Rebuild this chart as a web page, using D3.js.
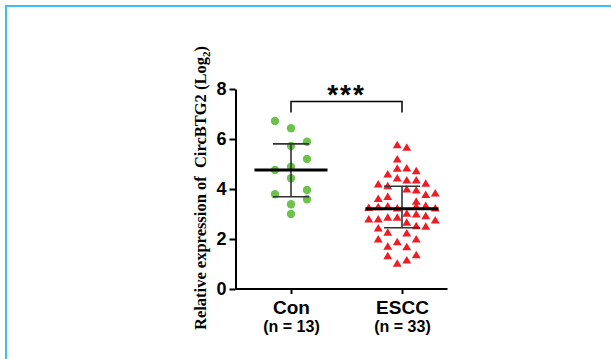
<!DOCTYPE html>
<meta charset="utf-8">
<html lang="en">
<style>
    body {
        margin: 0;
        background: #fff;
        font-family: "Liberation Sans", Arial, sans-serif;
    }
    .axis path,
    .axis line {
        fill: none;
        stroke: #000;
        stroke-width: 2px;
    }
    .axis text {
        font-family: "Liberation Sans", Arial, sans-serif;
        font-weight: bold;
        font-size: 18px;
        fill: #000;
    }
</style>
<head>
    <script src="https://d3js.org/d3.v7.min.js"></script>
</head>
<body>
<svg width="611" height="359"></svg>
<script>

    // groups and labels
    var groups = ["Con", "ESCC"];
    var groupSizes = ["(n = 13)", "(n = 33)"];
    var yTicks = [0, 2, 4, 6, 8];

    // Con values (circles) and their swarm slot
    var conValues = [6.72, 6.43, 5.89, 5.72, 5.2, 4.89, 4.76, 4.43, 3.96, 3.79, 3.59, 3.39, 3.0];
    var conSlots  = [-1,   0,    1,    0,    1,   0,    -1,   0,    1,    -1,   1,    0,    0];

    // ESCC values (triangles) and their swarm slot
    var esccValues = [5.73, 5.63, 5.16, 4.79, 4.8, 4.69, 4.56, 4.4, 4.32, 4.32,
        4.16, 4.09, 4.19, 3.96, 3.92, 3.74, 3.8, 3.58, 3.66, 3.47,
        3.22, 3.25, 3.28, 3.2, 3.27, 3.3, 3.2,
        2.76, 2.76, 2.83, 2.83, 2.99, 2.96, 2.89, 2.72, 2.63, 2.49,
        2.47, 2.4, 2.23, 2.2, 1.96, 1.96, 1.85, 1.67, 1.65, 1.29, 1.33, 1.12, 0.99];
    var esccSlots = [-0.5, 0.5, -0.5, -0.5, 0.5, 1.5, -1.5, -0.5, 0.5, 1.5,
        -2.5, -1.5, 2.5, 0.5, 1.5, 2.5, 3.5, -2.5, -1.5, 1.5,
        -3.5, -2.5, -1.5, -0.5, 1.5, 2.5, 3.5,
        -3.5, -2.5, -1.5, -0.5, 0.5, 1.5, 2.5, 3.5, 0.5, 1.5,
        2.5, -2.5, -1.5, 0.5, -2.5, 1.5, -0.5, -1.5, 0.5, -1.5, 1.5, 0.5, -0.5];

    var margin = {top: 89, left: 235.5},
        width = 222,
        height = 200;

    var svg = d3.select("svg");

    // frame
    svg.append("rect")
        .attr("x", 6).attr("y", 6)
        .attr("width", 800).attr("height", 600)
        .style("fill", "none")
        .style("stroke", "#3cbff0")
        .style("stroke-width", 2);

    var g = svg.append("g")
        .attr("transform", "translate(" + margin.left + "," + margin.top + ")");

    var x = d3.scalePoint().domain(groups).range([0, width]).padding(0.5);
    var y = d3.scaleLinear().domain([0, 8]).range([height, 0]);

    g.append("g")
        .attr("class", "y axis")
        .call(d3.axisLeft(y).tickValues(yTicks).tickSize(6).tickSizeOuter(0).tickPadding(3));

    var xAxis = g.append("g")
        .attr("class", "x axis")
        .attr("transform", "translate(0," + height + ")")
        .call(d3.axisBottom(x).tickSize(5).tickSizeOuter(0));
    xAxis.select(".domain").attr("d", "M0,0H212");
    xAxis.selectAll(".tick text")
        .attr("y", 25).attr("dy", 0)
        .style("font-size", "19px");
    xAxis.selectAll(".tick")
        .append("text")
        .attr("y", 43)
        .style("font-size", "16px")
        .text(function (d, i) { return groupSizes[i]; });

    // y label
    var ylab = svg.append("text")
        .attr("transform", "translate(206,188) rotate(-90)")
        .style("text-anchor", "middle")
        .style("white-space", "pre")
        .style("font-family", "'Liberation Serif', 'Times New Roman', serif")
        .style("font-weight", "bold")
        .style("font-size", "16.5px");
    ylab.append("tspan").text("Relative expression of  CircBTG2 (Log");
    ylab.append("tspan").attr("dy", 4).style("font-size", "11px").text("2");
    ylab.append("tspan").attr("dy", -4).text(")");

    // median with interquartile range (n+1 method)
    function quant(vals, p) {
        var s = vals.slice().sort(d3.ascending);
        var pos = (s.length + 1) * p - 1;
        var lo = Math.floor(pos), hi = Math.ceil(pos);
        return s[lo] + (s[hi] - s[lo]) * (pos - lo);
    }

    var sets = [
        {name: "Con", values: conValues},
        {name: "ESCC", values: esccValues}
    ];

    // points
    g.selectAll(".con")
        .data(conValues)
        .enter().append("circle")
        .attr("class", "con")
        .attr("cx", function (d, i) { return x("Con") + conSlots[i] * 16; })
        .attr("cy", function (d) { return y(d); })
        .attr("r", 4.2)
        .style("fill", "#6cc24a");

    var tri = d3.symbol().type(d3.symbolTriangle).size(34);
    g.selectAll(".escc")
        .data(esccValues)
        .enter().append("path")
        .attr("class", "escc")
        .attr("d", tri)
        .attr("transform", function (d, i) {
            return "translate(" + (x("ESCC") + esccSlots[i] * 9.5) + "," + y(d) + ")";
        })
        .style("fill", "#ee1c25");

    // summary bars
    sets.forEach(function (s) {
        var cx = x(s.name);
        var med = quant(s.values, 0.5), q1 = quant(s.values, 0.25), q3 = quant(s.values, 0.75);
        var eb = g.append("g").style("stroke", "#333").style("stroke-width", 1.6);
        eb.append("line").attr("x1", cx).attr("x2", cx).attr("y1", y(q1)).attr("y2", y(q3));
        eb.append("line").attr("x1", cx - 18).attr("x2", cx + 18).attr("y1", y(q1)).attr("y2", y(q1));
        eb.append("line").attr("x1", cx - 18).attr("x2", cx + 18).attr("y1", y(q3)).attr("y2", y(q3));
        g.append("line")
            .attr("x1", cx - 36.5).attr("x2", cx + 36.5)
            .attr("y1", y(med)).attr("y2", y(med))
            .style("stroke", "#000").style("stroke-width", 3.2);
    });

    // significance bracket
    g.append("path")
        .attr("d", "M" + x("Con") + "," + (y(7.5) + 11) + "V" + y(7.5) + "H" + x("ESCC") + "V" + (y(7.5) + 11))
        .style("fill", "none").style("stroke", "#000").style("stroke-width", 1.5);
    g.append("text")
        .attr("x", (x("Con") + x("ESCC")) / 2)
        .attr("y", y(7.5) + 2)
        .style("text-anchor", "middle")
        .style("font-weight", "bold")
        .style("font-size", "28px")
        .style("letter-spacing", "2px")
        .text("***");

</script>
</body>
</html>
